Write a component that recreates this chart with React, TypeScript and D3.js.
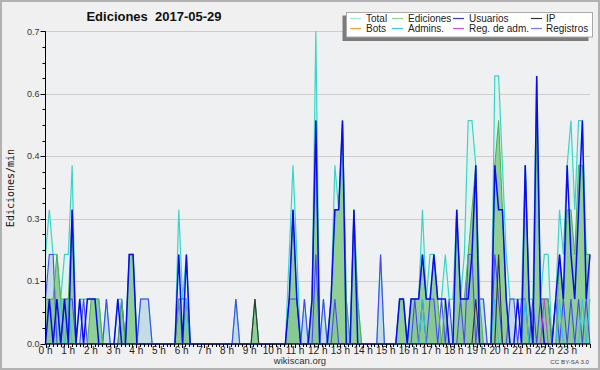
import React from "react";
import * as d3 from "d3";

const W = 600;
const H = 370;

// Edits per 10-minute bucket (144 buckets, 00:00 → 23:50); plotted as edits/min
const totalCounts = [
  2, 3, 2, 2, 1, 2, 2, 4, 0, 1, 1, 1, 1, 1, 1, 0, 1, 0, 0, 1, 1, 0, 2, 2,
  0, 1, 1, 1, 0, 0, 0, 0, 0, 0, 0, 3, 1, 2, 0, 0, 0, 0, 0, 0, 0, 0, 0, 0,
  0, 0, 1, 0, 0, 0, 0, 1, 0, 0, 0, 0, 0, 0, 0, 0, 2, 4, 2, 0, 1, 0, 1, 7,
  0, 1, 0, 1, 4, 3, 5, 1, 0, 3, 1, 0, 0, 0, 0, 0, 2, 0, 0, 0, 0, 1, 1, 0,
  1, 1, 1, 3, 1, 2, 2, 1, 1, 2, 1, 1, 3, 1, 2, 5, 5, 4, 1, 1, 0, 0, 6, 6,
  4, 2, 1, 1, 1, 1, 4, 1, 1, 6, 1, 2, 2, 0, 1, 3, 2, 4, 5, 3, 5, 5, 2, 2,
];
const edicionesCounts = [
  1, 1, 1, 2, 1, 1, 1, 3, 0, 0, 0, 0, 1, 1, 1, 0, 0, 0, 0, 0, 1, 0, 2, 2,
  0, 0, 0, 0, 0, 0, 0, 0, 0, 0, 0, 1, 0, 1, 0, 0, 0, 0, 0, 0, 0, 0, 0, 0,
  0, 0, 0, 0, 0, 0, 0, 1, 0, 0, 0, 0, 0, 0, 0, 0, 1, 3, 1, 0, 0, 0, 1, 5,
  0, 0, 0, 1, 3, 3, 5, 1, 0, 3, 1, 0, 0, 0, 0, 0, 0, 0, 0, 0, 0, 1, 1, 0,
  1, 1, 1, 2, 1, 1, 2, 1, 0, 1, 0, 0, 3, 1, 1, 2, 3, 4, 1, 0, 0, 0, 4, 5,
  3, 1, 0, 0, 0, 0, 4, 1, 0, 5, 1, 1, 1, 0, 0, 2, 1, 3, 3, 2, 4, 4, 2, 2,
];
const usuariosCounts = [
  0, 1, 0, 1, 0, 1, 0, 3, 0, 1, 0, 1, 1, 1, 0, 0, 0, 0, 0, 1, 0, 0, 2, 2,
  0, 0, 0, 0, 0, 0, 0, 0, 0, 0, 0, 2, 0, 2, 0, 0, 0, 0, 0, 0, 0, 0, 0, 0,
  0, 0, 0, 0, 0, 0, 0, 0, 0, 0, 0, 0, 0, 0, 0, 0, 1, 3, 1, 0, 0, 0, 1, 5,
  0, 0, 0, 1, 3, 3, 5, 0, 0, 3, 0, 0, 0, 0, 0, 0, 0, 0, 0, 0, 0, 1, 1, 0,
  1, 1, 1, 2, 1, 1, 2, 1, 1, 1, 0, 0, 3, 1, 1, 1, 2, 4, 0, 0, 0, 0, 4, 3,
  3, 1, 0, 0, 1, 0, 4, 1, 0, 6, 1, 0, 0, 0, 1, 2, 1, 4, 2, 1, 3, 5, 1, 2,
];
const ipCounts = [
  0, 0, 0, 0, 0, 0, 0, 0, 0, 0, 0, 0, 0, 0, 0, 0, 0, 0, 0, 0, 0, 0, 0, 0,
  0, 0, 0, 0, 0, 0, 0, 0, 0, 0, 0, 0, 0, 0, 0, 0, 0, 0, 0, 0, 0, 0, 0, 0,
  0, 0, 0, 0, 0, 0, 0, 1, 0, 0, 0, 0, 0, 0, 0, 0, 0, 0, 0, 0, 0, 0, 0, 0,
  0, 0, 0, 0, 0, 0, 0, 0, 0, 0, 0, 0, 0, 0, 0, 0, 0, 0, 0, 0, 0, 0, 0, 0,
  0, 0, 0, 0, 0, 0, 0, 0, 0, 0, 0, 0, 0, 0, 0, 0, 0, 1, 0, 0, 0, 0, 0, 2,
  0, 0, 0, 0, 0, 0, 0, 0, 0, 0, 0, 0, 0, 0, 0, 0, 0, 0, 0, 0, 0, 0, 0, 0,
];
const botsCounts = new Array(144).fill(0);
const adminsCounts = [
  0, 0, 0, 0, 1, 0, 1, 0, 0, 0, 0, 0, 0, 0, 0, 0, 0, 0, 0, 0, 0, 0, 0, 0,
  0, 0, 0, 0, 0, 0, 0, 0, 0, 0, 0, 0, 0, 1, 0, 0, 0, 0, 0, 0, 0, 0, 0, 0,
  0, 0, 0, 0, 0, 0, 0, 0, 0, 0, 0, 0, 0, 0, 0, 0, 0, 0, 0, 0, 0, 0, 0, 0,
  0, 0, 0, 0, 0, 0, 0, 0, 0, 0, 0, 0, 0, 0, 0, 0, 0, 0, 0, 0, 0, 0, 0, 0,
  0, 0, 0, 1, 0, 0, 0, 0, 0, 0, 0, 0, 0, 0, 0, 0, 0, 0, 0, 0, 0, 0, 1, 0,
  0, 0, 0, 0, 0, 0, 1, 0, 0, 0, 0, 0, 0, 0, 0, 1, 0, 0, 0, 0, 0, 1, 0, 1,
];
const regAdmCounts = [
  0, 0, 0, 0, 0, 0, 0, 0, 0, 0, 0, 0, 0, 0, 0, 0, 0, 0, 0, 0, 0, 0, 0, 0,
  0, 0, 0, 0, 0, 0, 0, 0, 0, 0, 0, 0, 0, 0, 0, 0, 0, 0, 0, 0, 0, 0, 0, 0,
  0, 0, 0, 0, 0, 0, 0, 0, 0, 0, 0, 0, 0, 0, 0, 0, 0, 0, 0, 0, 0, 0, 0, 0,
  0, 0, 0, 0, 0, 0, 0, 0, 0, 0, 0, 0, 0, 0, 0, 0, 0, 0, 0, 0, 0, 0, 0, 0,
  0, 0, 0, 0, 0, 0, 0, 0, 0, 0, 0, 0, 0, 0, 0, 0, 0, 0, 0, 0, 0, 0, 0, 0,
  0, 0, 0, 0, 0, 0, 0, 0, 0, 0, 0, 1, 0, 0, 0, 0, 0, 0, 0, 0, 0, 0, 0, 0,
];
const registrosCounts = [
  1, 2, 2, 0, 0, 1, 1, 1, 0, 0, 1, 0, 0, 0, 0, 0, 1, 0, 0, 0, 1, 0, 0, 0,
  0, 1, 1, 1, 0, 0, 0, 0, 0, 0, 0, 1, 1, 1, 0, 0, 0, 0, 0, 0, 0, 0, 0, 0,
  0, 0, 1, 0, 0, 0, 0, 0, 0, 0, 0, 0, 0, 0, 0, 0, 1, 1, 1, 0, 1, 0, 0, 2,
  0, 1, 0, 0, 1, 0, 0, 0, 0, 0, 0, 0, 0, 0, 0, 0, 2, 0, 0, 0, 0, 0, 0, 0,
  0, 1, 0, 1, 0, 1, 1, 0, 1, 0, 1, 0, 0, 1, 0, 2, 2, 0, 1, 1, 0, 0, 2, 1,
  0, 0, 1, 1, 0, 1, 1, 0, 1, 0, 1, 1, 1, 0, 1, 0, 1, 0, 1, 0, 1, 0, 1, 0,
];

const legendNames = ["Total", "Ediciones", "Usuarios", "IP", "Bots", "Admins.", "Reg. de adm.", "Registros"];
const legendColors = ["#a6e4df", "#8fd08f", "#3a3ad6", "#333333", "#f4a043", "#3fc9e2", "#c84fe0", "#7a7af0"];
const hourLabels = [
  "0 h", "1 h", "2 h", "3 h", "4 h", "5 h", "6 h", "7 h", "8 h", "9 h", "10 h", "11 h",
  "12 h", "13 h", "14 h", "15 h", "16 h", "17 h", "18 h", "19 h", "20 h", "21 h", "22 h", "23 h",
];
const yMax = 0.7;
const title = "Ediciones\u00a0\u00a02017-05-29";
const yTitle = "Ediciones/min";

const LEFT = 45.5;
const RIGHT = 590;
const TOP = 31.3;
const BOTTOM = 343.7;

export default function App() {
  const x = d3.scaleLinear().domain([0, totalCounts.length - 1]).range([LEFT, RIGHT]);
  const xh = d3.scaleLinear().domain([0, 24]).range([LEFT, RIGHT]);
  const y = d3.scaleLinear().domain([0, yMax]).range([BOTTOM, TOP]);

  const area = d3
    .area<number>()
    .x((_, i) => x(i))
    .y0(y(0))
    .y1((d) => y(d / 10));
  const line = d3
    .line<number>()
    .x((_, i) => x(i))
    .y((d) => y(d / 10));

  const minorY = d3.range(0, 21).map((k) => (k * yMax) / 20);
  const majorY = minorY.filter((_, k) => k % 4 === 0);
  const fmt = d3.format(".1f");
  const minorX = d3.range(0, 145).map((k) => k / 6);

  const font = "'Liberation Sans', Arial, sans-serif";
  const anyNonZero = (a: number[]) => a.some((v) => v > 0);

  const legendColX = [350, 392, 453, 531];
  const legendTextX = [366, 408, 469, 546];
  const legendRowY = [18.5, 28.5];

  return (
    <svg
      width={W}
      height={H}
      style={{ position: "absolute", left: 0, top: 0, display: "block" }}
      xmlns="http://www.w3.org/2000/svg"
    >
      <rect x={1} y={1} width={W - 2} height={H - 2} fill="#f0f0f0" stroke="#b2b2b2" strokeWidth={2} />
      <rect x={LEFT} y={TOP} width={RIGHT - LEFT} height={BOTTOM - TOP} fill="#eef0f2" />

      {/* gridlines */}
      {majorY
        .filter((v) => v > 0)
        .map((v, k) => (
          <line key={"g" + k} x1={LEFT} x2={RIGHT} y1={Math.round(y(v)) + 0.5} y2={Math.round(y(v)) + 0.5} stroke="#cdcdcd" strokeWidth={1} />
        ))}

      {/* areas */}
      <path d={area(totalCounts) || ""} fill="#def3ee" />
      <path d={area(registrosCounts) || ""} fill="#c3dce6" />
      <path d={area(edicionesCounts) || ""} fill="#6fbf6f" fillOpacity={0.7} />

      {/* lines */}
      <path d={line(totalCounts) || ""} fill="none" stroke="#3cd4c6" strokeWidth={1.2} />
      <path d={line(registrosCounts) || ""} fill="none" stroke="#4848f2" strokeWidth={1.1} />
      <path d={line(edicionesCounts) || ""} fill="none" stroke="#4fae4f" strokeWidth={1} />
      <path d={line(adminsCounts) || ""} fill="none" stroke="#2ec6e0" strokeWidth={1} opacity={anyNonZero(adminsCounts) ? 1 : 0} />
      <path d={line(ipCounts) || ""} fill="none" stroke="#333333" strokeWidth={1.1} />
      <path d={line(usuariosCounts) || ""} fill="none" stroke="#0a0af0" strokeWidth={1.5} />
      <path d={line(regAdmCounts) || ""} fill="none" stroke="#c040e0" strokeWidth={1} />
      {anyNonZero(botsCounts) && <path d={line(botsCounts) || ""} fill="none" stroke="#f4a043" strokeWidth={1} />}

      {/* y axis */}
      <line x1={LEFT} x2={LEFT} y1={TOP} y2={BOTTOM + 0.5} stroke="#000" strokeWidth={1} />
      {minorY.map((v, k) => (
        <line
          key={"yt" + k}
          x1={k % 4 === 0 ? LEFT - 5 : LEFT - 3}
          x2={LEFT}
          y1={Math.round(y(v)) + 0.5}
          y2={Math.round(y(v)) + 0.5}
          stroke="#000"
          strokeWidth={1}
        />
      ))}
      {majorY.map((v, k) => (
        <text key={"yl" + k} x={39.5} y={y(v) + 3.2} fontSize={9} fontFamily={font} fill="#333" textAnchor="end">
          {fmt(v)}
        </text>
      ))}

      {/* x axis */}
      <line x1={LEFT} x2={RIGHT} y1={344} y2={344} stroke="#000" strokeWidth={1} />
      {minorX.map((h, k) => (
        <line
          key={"xt" + k}
          x1={Math.round(xh(h)) + 0.5}
          x2={Math.round(xh(h)) + 0.5}
          y1={344}
          y2={k % 6 === 0 ? 348 : 347}
          stroke="#000"
          strokeWidth={1}
        />
      ))}
      {hourLabels.map((lab, h) => (
        <text key={"xl" + h} x={xh(h)} y={353.5} fontSize={10} fontFamily={font} fill="#222" textAnchor="middle">
          {lab}
        </text>
      ))}

      {/* titles */}
      <text x={154} y={21} fontSize={13} fontWeight="bold" fontFamily={font} fill="#111" textAnchor="middle">
        {title}
      </text>
      <text
        transform="translate(13.5,188) rotate(-90)"
        fontSize={10}
        fontFamily="'DejaVu Sans Mono', monospace"
        fill="#111"
        textAnchor="middle"
      >
        {yTitle}
      </text>
      <text x={300} y={364} fontSize={9.5} fontFamily={font} fill="#333" textAnchor="middle">
        wikiscan.org
      </text>
      <text x={589} y={364} fontSize={6.2} fontFamily={font} fill="#444" textAnchor="end">
        CC BY-SA 3.0
      </text>

      {/* legend */}
      <rect x={342.5} y={15.5} width={246} height={25.5} fill="#7c7c7c" />
      <rect x={346.5} y={12.5} width={246} height={24.5} fill="#ffffff" stroke="#a8a8a8" strokeWidth={1} />
      {legendNames.map((name, k) => {
        const col = k % 4;
        const row = Math.floor(k / 4);
        const cy = legendRowY[row];
        return (
          <g key={"lg" + k}>
            <line x1={legendColX[col]} x2={legendColX[col] + 11} y1={cy} y2={cy} stroke={legendColors[k]} strokeWidth={1.2} />
            <text x={legendTextX[col]} y={cy + 3.8} fontSize={10} fontFamily={font} fill="#222">
              {name}
            </text>
          </g>
        );
      })}
    </svg>
  );
}
